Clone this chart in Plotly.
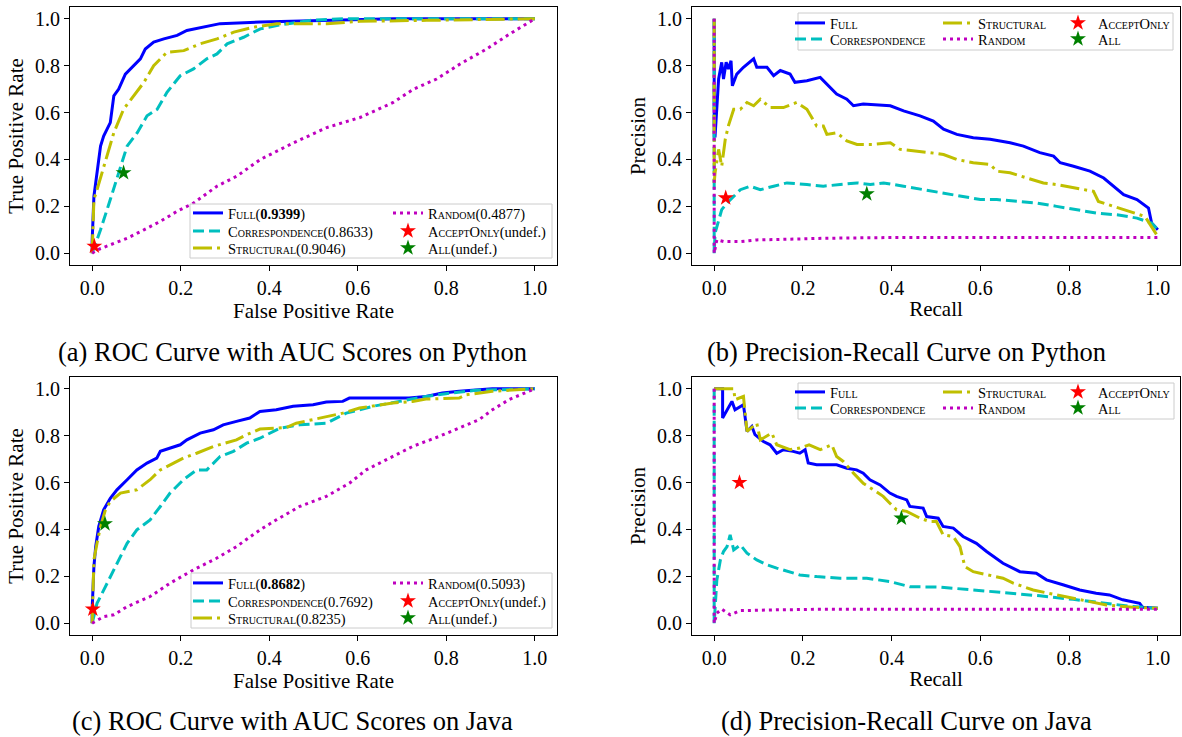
import plotly.graph_objects as go

# ---------------- data ----------------
# (a) ROC on Python
roc_py_full_fpr = [0, 0, 0.004, 0.011, 0.019, 0.026, 0.041, 0.049, 0.06, 0.075, 0.086, 0.109, 0.12, 0.139, 0.162, 0.192, 0.214, 0.252, 0.289, 0.38, 0.53, 0.68, 1.0]
roc_py_full_tpr = [0, 0.05, 0.243, 0.343, 0.457, 0.5, 0.557, 0.671, 0.7, 0.764, 0.786, 0.829, 0.871, 0.9, 0.914, 0.929, 0.95, 0.964, 0.979, 0.986, 0.993, 1.0, 1.0]
roc_py_corr_fpr = [0, 0.008, 0.019, 0.041, 0.06, 0.071, 0.079, 0.102, 0.124, 0.147, 0.169, 0.199, 0.229, 0.259, 0.282, 0.305, 0.342, 0.38, 0.417, 0.492, 0.568, 1.0]
roc_py_corr_tpr = [0, 0.043, 0.1, 0.229, 0.343, 0.414, 0.457, 0.514, 0.586, 0.614, 0.686, 0.757, 0.786, 0.829, 0.85, 0.893, 0.921, 0.957, 0.971, 0.993, 1.0, 1.0]
roc_py_struct_fpr = [0, 0.002, 0.004, 0.011, 0.026, 0.049, 0.071, 0.094, 0.117, 0.139, 0.169, 0.207, 0.244, 0.282, 0.32, 0.365, 0.417, 0.53, 0.605, 0.756, 0.906, 1.0]
roc_py_struct_tpr = [0, 0.1, 0.229, 0.271, 0.371, 0.514, 0.614, 0.671, 0.729, 0.8, 0.857, 0.864, 0.893, 0.914, 0.943, 0.964, 0.979, 0.979, 0.989, 0.993, 0.997, 1.0]
roc_py_rand_fpr = [0, 0.011, 0.041, 0.079, 0.117, 0.154, 0.192, 0.229, 0.282, 0.327, 0.38, 0.455, 0.53, 0.605, 0.68, 0.726, 0.778, 0.831, 0.891, 0.944, 1.0]
roc_py_rand_tpr = [0, 0.014, 0.036, 0.064, 0.1, 0.136, 0.179, 0.214, 0.286, 0.329, 0.4, 0.471, 0.536, 0.579, 0.643, 0.7, 0.743, 0.807, 0.871, 0.936, 1.0]
roc_py_acceptonly = [0.005, 0.03]
roc_py_all = [0.071, 0.343]
roc_py_auc = ["0.9399", "0.8633", "0.9046", "0.4877"]

# (b) Precision-Recall on Python
pr_py_full_rec = [0, 0, 0.002, 0.01, 0.017, 0.021, 0.027, 0.032, 0.038, 0.041, 0.051, 0.066, 0.089, 0.096, 0.119, 0.134, 0.149, 0.171, 0.182, 0.209, 0.239, 0.254, 0.276, 0.299, 0.314, 0.336, 0.397, 0.427, 0.464, 0.494, 0.517, 0.547, 0.584, 0.622, 0.667, 0.697, 0.734, 0.765, 0.78, 0.81, 0.847, 0.878, 0.9, 0.923, 0.953, 0.979, 0.986, 1.0]
pr_py_full_prec = [1.0, 0.5, 0.5, 0.743, 0.814, 0.743, 0.814, 0.786, 0.821, 0.714, 0.764, 0.793, 0.829, 0.793, 0.793, 0.757, 0.779, 0.764, 0.729, 0.736, 0.75, 0.721, 0.679, 0.657, 0.629, 0.636, 0.629, 0.607, 0.586, 0.564, 0.529, 0.507, 0.493, 0.486, 0.471, 0.457, 0.429, 0.414, 0.386, 0.371, 0.35, 0.321, 0.286, 0.25, 0.229, 0.193, 0.129, 0.1]
pr_py_corr_rec = [0, 0, 0.002, 0.01, 0.017, 0.029, 0.044, 0.059, 0.081, 0.104, 0.134, 0.164, 0.209, 0.246, 0.284, 0.322, 0.352, 0.382, 0.427, 0.472, 0.517, 0.562, 0.6, 0.637, 0.682, 0.727, 0.772, 0.817, 0.863, 0.908, 0.953, 0.986, 1.0]
pr_py_corr_prec = [1.0, 0.0, 0.086, 0.143, 0.186, 0.214, 0.243, 0.271, 0.286, 0.271, 0.286, 0.3, 0.293, 0.286, 0.293, 0.3, 0.293, 0.3, 0.286, 0.271, 0.257, 0.243, 0.229, 0.229, 0.221, 0.214, 0.2, 0.186, 0.171, 0.164, 0.15, 0.129, 0.1]
pr_py_struct_rec = [0, 0, 0.002, 0.01, 0.017, 0.025, 0.032, 0.044, 0.059, 0.074, 0.089, 0.104, 0.126, 0.156, 0.186, 0.209, 0.231, 0.246, 0.254, 0.276, 0.299, 0.322, 0.359, 0.397, 0.419, 0.457, 0.487, 0.517, 0.547, 0.584, 0.622, 0.637, 0.667, 0.705, 0.742, 0.772, 0.81, 0.855, 0.866, 0.9, 0.945, 0.971, 1.0]
pr_py_struct_prec = [1.0, 0.3, 0.343, 0.443, 0.371, 0.486, 0.543, 0.614, 0.614, 0.643, 0.629, 0.657, 0.621, 0.621, 0.643, 0.614, 0.543, 0.543, 0.507, 0.514, 0.479, 0.464, 0.464, 0.471, 0.443, 0.436, 0.429, 0.421, 0.4, 0.386, 0.379, 0.35, 0.343, 0.321, 0.3, 0.293, 0.279, 0.264, 0.221, 0.2, 0.171, 0.157, 0.071]
pr_py_rand_rec = [0, 0, 0.006, 0.021, 0.059, 0.096, 0.171, 0.246, 0.397, 1.0]
pr_py_rand_prec = [1.0, 0.0, 0.057, 0.05, 0.05, 0.057, 0.06, 0.064, 0.067, 0.067]
pr_py_acceptonly = [0.026, 0.236]
pr_py_all = [0.344, 0.253]

# (c) ROC on Java
roc_java_full_fpr = [0, 0, 0.004, 0.008, 0.015, 0.026, 0.041, 0.056, 0.079, 0.101, 0.124, 0.146, 0.154, 0.176, 0.199, 0.214, 0.244, 0.274, 0.296, 0.326, 0.356, 0.379, 0.416, 0.454, 0.499, 0.529, 0.566, 0.581, 0.641, 0.716, 0.754, 0.791, 0.829, 0.904, 1.0]
roc_java_full_tpr = [0, 0.06, 0.242, 0.327, 0.413, 0.484, 0.533, 0.569, 0.612, 0.654, 0.683, 0.704, 0.733, 0.747, 0.761, 0.782, 0.811, 0.825, 0.846, 0.861, 0.875, 0.903, 0.91, 0.925, 0.932, 0.943, 0.946, 0.96, 0.96, 0.96, 0.967, 0.982, 0.989, 1.0, 1.0]
roc_java_corr_fpr = [0, 0.004, 0.011, 0.034, 0.056, 0.079, 0.101, 0.131, 0.154, 0.176, 0.206, 0.236, 0.259, 0.289, 0.319, 0.349, 0.379, 0.424, 0.469, 0.529, 0.574, 0.634, 0.694, 0.754, 0.799, 0.866, 1.0]
roc_java_corr_tpr = [0, 0.028, 0.085, 0.171, 0.256, 0.341, 0.398, 0.441, 0.498, 0.555, 0.612, 0.654, 0.654, 0.711, 0.733, 0.768, 0.789, 0.832, 0.846, 0.853, 0.896, 0.925, 0.946, 0.967, 0.979, 0.993, 1.0]
roc_java_struct_fpr = [0, 0.004, 0.011, 0.019, 0.03, 0.041, 0.064, 0.101, 0.131, 0.154, 0.184, 0.206, 0.236, 0.274, 0.326, 0.349, 0.379, 0.439, 0.461, 0.514, 0.566, 0.604, 0.679, 0.724, 0.754, 0.829, 0.844, 0.904, 1.0]
roc_java_struct_tpr = [0, 0.27, 0.341, 0.413, 0.484, 0.519, 0.555, 0.569, 0.612, 0.654, 0.683, 0.704, 0.725, 0.754, 0.782, 0.804, 0.828, 0.835, 0.853, 0.875, 0.896, 0.918, 0.939, 0.946, 0.956, 0.96, 0.974, 0.989, 1.0]
roc_java_rand_fpr = [0, 0.026, 0.049, 0.079, 0.131, 0.176, 0.229, 0.281, 0.326, 0.379, 0.416, 0.469, 0.529, 0.581, 0.619, 0.679, 0.724, 0.784, 0.829, 0.874, 0.904, 0.941, 1.0]
roc_java_rand_tpr = [0, 0.028, 0.036, 0.071, 0.114, 0.171, 0.228, 0.277, 0.327, 0.398, 0.441, 0.498, 0.541, 0.597, 0.654, 0.711, 0.754, 0.797, 0.832, 0.868, 0.91, 0.953, 1.0]
roc_java_acceptonly = [0.0015, 0.06]
roc_java_all = [0.029, 0.424]
roc_java_auc = ["0.8682", "0.7692", "0.8235", "0.5093"]

# (d) Precision-Recall on Java
pr_java_full_rec = [0, 0.019, 0.019, 0.029, 0.04, 0.047, 0.066, 0.074, 0.085, 0.092, 0.111, 0.126, 0.141, 0.156, 0.178, 0.193, 0.205, 0.212, 0.231, 0.276, 0.299, 0.321, 0.336, 0.351, 0.374, 0.396, 0.411, 0.434, 0.441, 0.471, 0.479, 0.505, 0.516, 0.539, 0.561, 0.591, 0.614, 0.651, 0.689, 0.726, 0.749, 0.786, 0.824, 0.861, 0.891, 0.921, 0.959, 0.966, 1.0]
pr_java_full_prec = [1.0, 1.0, 0.875, 0.91, 0.946, 0.91, 0.932, 0.818, 0.839, 0.804, 0.775, 0.761, 0.725, 0.74, 0.733, 0.725, 0.74, 0.683, 0.676, 0.676, 0.661, 0.654, 0.64, 0.612, 0.59, 0.555, 0.541, 0.526, 0.498, 0.491, 0.455, 0.448, 0.413, 0.406, 0.37, 0.341, 0.306, 0.256, 0.22, 0.213, 0.185, 0.164, 0.142, 0.128, 0.121, 0.1, 0.085, 0.068, 0.064]
pr_java_corr_rec = [0, 0, 0.006, 0.014, 0.021, 0.029, 0.036, 0.044, 0.059, 0.074, 0.096, 0.119, 0.141, 0.171, 0.193, 0.231, 0.284, 0.344, 0.396, 0.441, 0.509, 0.584, 0.659, 0.734, 0.809, 0.884, 0.944, 1.0]
pr_java_corr_prec = [1.0, 0.0, 0.185, 0.27, 0.306, 0.327, 0.377, 0.313, 0.334, 0.299, 0.27, 0.249, 0.235, 0.22, 0.206, 0.199, 0.192, 0.192, 0.178, 0.156, 0.154, 0.142, 0.131, 0.117, 0.102, 0.085, 0.071, 0.064]
pr_java_struct_rec = [0, 0.044, 0.047, 0.066, 0.074, 0.096, 0.104, 0.13, 0.141, 0.171, 0.193, 0.214, 0.239, 0.265, 0.276, 0.291, 0.314, 0.336, 0.359, 0.381, 0.396, 0.411, 0.434, 0.464, 0.486, 0.501, 0.516, 0.539, 0.554, 0.565, 0.584, 0.621, 0.651, 0.674, 0.719, 0.771, 0.824, 0.884, 0.944, 1.0]
pr_java_struct_prec = [1.0, 1.0, 0.953, 0.967, 0.818, 0.853, 0.782, 0.811, 0.761, 0.74, 0.747, 0.761, 0.74, 0.761, 0.711, 0.69, 0.64, 0.597, 0.569, 0.541, 0.512, 0.484, 0.477, 0.448, 0.434, 0.434, 0.377, 0.37, 0.327, 0.242, 0.22, 0.206, 0.192, 0.171, 0.142, 0.121, 0.1, 0.078, 0.068, 0.064]
pr_java_rand_rec = [0, 0, 0.006, 0.017, 0.036, 0.059, 0.134, 0.246, 1.0]
pr_java_rand_prec = [1.0, 0.0, 0.043, 0.06, 0.036, 0.054, 0.057, 0.06, 0.06]
pr_java_acceptonly = [0.057, 0.6]
pr_java_all = [0.422, 0.448]

tick_vals = [0, 0.2, 0.4, 0.6, 0.8, 1.0]
tick_text = ["0.0", "0.2", "0.4", "0.6", "0.8", "1.0"]
captions = ["(a) ROC Curve with AUC Scores on Python", "(b) Precision-Recall Curve on Python",
            "(c) ROC Curve with AUC Scores on Java", "(d) Precision-Recall Curve on Java"]

# ---------------- layout helpers ----------------
W, H = 1182, 737
SERIF = "Liberation Serif"
def px(x): return x / W
def py(y): return 1 - y / H

def sc(name):
    return '<span style="font-variant:small-caps">' + name + '</span>'

STYLE = {
    "full": dict(color="#0000ff", dash="solid"),
    "corr": dict(color="#00bfbf", dash="11px,5px"),
    "struct": dict(color="#bfbf00", dash="19px,5px,3px,5px"),
    "rand": dict(color="#bf00bf", dash="3px,4px"),
}

fig = go.Figure()
legend_layouts = {}
legend_counter = [0]

def new_legend(text_x, y):
    legend_counter[0] += 1
    n = legend_counter[0]
    key = "legend" if n == 1 else f"legend{n}"
    legend_layouts[key] = dict(
        x=px(text_x - 40), y=py(y), xanchor="left", yanchor="middle",
        bgcolor="rgba(0,0,0,0)", borderwidth=0, itemwidth=30,
        font=dict(family=SERIF, size=14.5, color="#000"),
    )
    return key

def add_panel(ax, series, stars, names, slots):
    xa, ya = ("x" if ax == 1 else f"x{ax}"), ("y" if ax == 1 else f"y{ax}")
    keys = ["full", "corr", "struct", "rand"]
    for i, k in enumerate(keys):
        xs, ys = series[i]
        lg = new_legend(*slots[i])
        fig.add_trace(go.Scatter(x=xs, y=ys, mode="lines", name=names[i],
                                 line=dict(color=STYLE[k]["color"], dash=STYLE[k]["dash"], width=3),
                                 xaxis=xa, yaxis=ya, legend=lg, hoverinfo="skip"))
    for j, (pt, col) in enumerate(zip(stars, ["#ff0000", "#008000"])):
        lg = new_legend(*slots[4 + j])
        fig.add_trace(go.Scatter(x=[pt[0]], y=[pt[1]], mode="markers", name=names[4 + j],
                                 marker=dict(symbol="star", size=12, color=col),
                                 xaxis=xa, yaxis=ya, legend=lg, hoverinfo="skip"))

def roc_names(auc):
    return [sc("Full") + "(<b>" + auc[0] + "</b>)", sc("Correspondence") + "(" + auc[1] + ")",
            sc("Structural") + "(" + auc[2] + ")", sc("Random") + "(" + auc[3] + ")",
            sc("AcceptOnly") + "(undef.)", sc("All") + "(undef.)"]

pr_names = [sc("Full"), sc("Correspondence"), sc("Structural"), sc("Random"), sc("AcceptOnly"), sc("All")]

def roc_slots(dy):
    c1, c2 = 228, 428
    r = [213 + dy, 231 + dy, 248 + dy]
    return [(c1, r[0]), (c1, r[1]), (c1, r[2]), (c2, r[0]), (c2, r[1]), (c2, r[2])]

def pr_slots(dy):
    c1, c2, c3 = 830, 978, 1098
    r = [23 + dy, 39 + dy]
    return [(c1, r[0]), (c1, r[1]), (c2, r[0]), (c2, r[1]), (c3, r[0]), (c3, r[1])]

add_panel(1, [(roc_py_full_fpr, roc_py_full_tpr), (roc_py_corr_fpr, roc_py_corr_tpr),
              (roc_py_struct_fpr, roc_py_struct_tpr), (roc_py_rand_fpr, roc_py_rand_tpr)],
          [roc_py_acceptonly, roc_py_all], roc_names(roc_py_auc), roc_slots(0))
add_panel(2, [(pr_py_full_rec, pr_py_full_prec), (pr_py_corr_rec, pr_py_corr_prec),
              (pr_py_struct_rec, pr_py_struct_prec), (pr_py_rand_rec, pr_py_rand_prec)],
          [pr_py_acceptonly, pr_py_all], pr_names, pr_slots(0))
add_panel(3, [(roc_java_full_fpr, roc_java_full_tpr), (roc_java_corr_fpr, roc_java_corr_tpr),
              (roc_java_struct_fpr, roc_java_struct_tpr), (roc_java_rand_fpr, roc_java_rand_tpr)],
          [roc_java_acceptonly, roc_java_all], roc_names(roc_java_auc), roc_slots(370))
add_panel(4, [(pr_java_full_rec, pr_java_full_prec), (pr_java_corr_rec, pr_java_corr_prec),
              (pr_java_struct_rec, pr_java_struct_prec), (pr_java_rand_rec, pr_java_rand_prec)],
          [pr_java_acceptonly, pr_java_all], pr_names, pr_slots(369))

# axes
boxes = {1: (70, 557, 7, 265), 2: (692, 1180, 7, 265), 3: (70, 557, 377, 635), 4: (692, 1180, 377, 635)}
xtitles = {1: "False Positive Rate", 2: "Recall", 3: "False Positive Rate", 4: "Recall"}
ytitles = {1: "True Positive Rate", 2: "Precision", 3: "True Positive Rate", 4: "Precision"}
axis_common = dict(range=[-0.05, 1.05], tickvals=tick_vals, ticktext=tick_text, showgrid=False,
                   zeroline=False, showline=True, mirror=True, linecolor="#000", linewidth=1.2,
                   ticks="outside", ticklen=5, tickwidth=1.2, tickcolor="#000",
                   tickfont=dict(family=SERIF, size=20, color="#000"))
layout_axes = {}
for i, (l, r, t, b) in boxes.items():
    xk = "xaxis" if i == 1 else f"xaxis{i}"
    yk = "yaxis" if i == 1 else f"yaxis{i}"
    layout_axes[xk] = dict(axis_common, domain=[px(l), px(r)], anchor="y" if i == 1 else f"y{i}",
                           title=dict(text=xtitles[i], font=dict(family=SERIF, size=21, color="#000"), standoff=3))
    layout_axes[yk] = dict(axis_common, domain=[py(b), py(t)], anchor="x" if i == 1 else f"x{i}",
                           title=dict(text=ytitles[i], font=dict(family=SERIF, size=21, color="#000"), standoff=5))

# legend frames
frames = [(190, 552, 204, 258), (798, 1173, 13, 50), (191, 552, 573, 628), (798, 1174, 383, 419)]
shapes = [dict(type="rect", xref="paper", yref="paper", x0=px(a), x1=px(b), y0=py(d), y1=py(c),
               line=dict(color="#cccccc", width=1), fillcolor="rgba(255,255,255,0.8)", layer="above")
          for a, b, c, d in frames]

cap_pos = [(292, 352), (907, 352), (292, 721), (906, 721)]
annotations = [dict(text=t, x=px(x), y=py(y), xref="paper", yref="paper", showarrow=False,
                    xanchor="center", yanchor="middle", font=dict(family=SERIF, size=26.5, color="#000"))
               for t, (x, y) in zip(captions, cap_pos)]

fig.update_layout(width=W, height=H, margin=dict(l=0, r=0, t=0, b=0, autoexpand=False),
                  paper_bgcolor="white", plot_bgcolor="white", showlegend=True,
                  shapes=shapes, annotations=annotations, **layout_axes, **legend_layouts)

fig.write_html("out.html")
